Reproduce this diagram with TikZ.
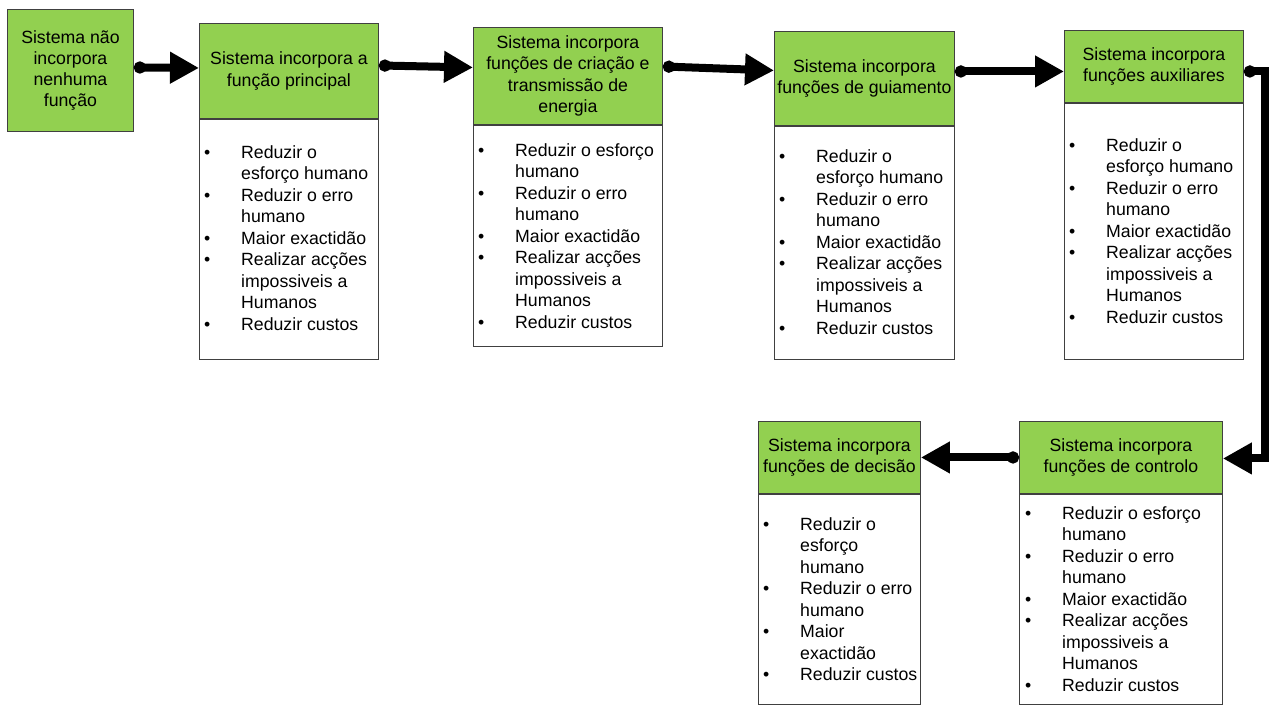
\documentclass[tikz,border=0pt]{standalone}
\usepackage{fontspec}
\setmainfont{Liberation Sans}
\usetikzlibrary{arrows.meta}
\definecolor{hdgreen}{RGB}{146,208,80}
\definecolor{edgegray}{RGB}{64,64,64}

% one bulleted line, and a wrapped continuation line
\newcommand\itm[1]{\makebox[37pt][l]{\textbullet}#1}
\newcommand\cnt[1]{\hspace*{37pt}#1}

\begin{document}
\begin{tikzpicture}[x=1pt,y=-1pt,
  head/.style={font=\fontsize{17.7pt}{21.3pt}\selectfont, inner sep=0pt,
    draw=edgegray, line width=0.9pt, fill=hdgreen, align=center, anchor=north west},
  panel/.style={draw=edgegray, line width=0.9pt, fill=white, anchor=north west, inner sep=0pt},
  list/.style={font=\fontsize{17.7pt}{21.5pt}\selectfont, inner sep=0pt, anchor=base west},
  conn/.style={line width=8pt, line join=miter,
    {Circle[length=12pt 0 0]}-{Triangle[length=29pt 0 0,width=30pt 0 0]}}
]
\useasboundingbox (0,0) rectangle (1269,705);

% starting state
\node[head, minimum width=126pt, minimum height=122pt] (g0) at (7,9)
  {Sistema não\\incorpora\\nenhuma\\função};

% stage 1
\node[head, minimum width=179pt, minimum height=95pt] (g1) at (199,23)
  {Sistema incorpora a\\função principal};
\node[panel, minimum width=179pt, minimum height=240pt] (p1) at (g1.south west) {};
\node[list] (t1) at (204,158) {\begin{tabular}[t]{@{}l@{}}
  \itm{Reduzir o}\\ \cnt{esforço humano}\\
  \itm{Reduzir o erro}\\ \cnt{humano}\\
  \itm{Maior exactidão}\\
  \itm{Realizar acções}\\ \cnt{impossiveis a}\\ \cnt{Humanos}\\
  \itm{Reduzir custos}
\end{tabular}};

% stage 2
\node[head, minimum width=189pt, minimum height=97pt] (g2) at (473,27)
  {Sistema incorpora\\funções de criação e\\transmissão de\\energia};
\node[panel, minimum width=189pt, minimum height=221pt] (p2) at (g2.south west) {};
\node[list] (t2) at (478,156) {\begin{tabular}[t]{@{}l@{}}
  \itm{Reduzir o esforço}\\ \cnt{humano}\\
  \itm{Reduzir o erro}\\ \cnt{humano}\\
  \itm{Maior exactidão}\\
  \itm{Realizar acções}\\ \cnt{impossiveis a}\\ \cnt{Humanos}\\
  \itm{Reduzir custos}
\end{tabular}};

% stage 3
\node[head, minimum width=180pt, minimum height=94pt] (g3) at (774,31)
  {Sistema incorpora\\funções de guiamento};
\node[panel, minimum width=180pt, minimum height=233pt] (p3) at (g3.south west) {};
\node[list] (t3) at (779,162) {\begin{tabular}[t]{@{}l@{}}
  \itm{Reduzir o}\\ \cnt{esforço humano}\\
  \itm{Reduzir o erro}\\ \cnt{humano}\\
  \itm{Maior exactidão}\\
  \itm{Realizar acções}\\ \cnt{impossiveis a}\\ \cnt{Humanos}\\
  \itm{Reduzir custos}
\end{tabular}};

% stage 4
\node[head, minimum width=179pt, minimum height=72pt] (g4) at (1064,30)
  {Sistema incorpora\\funções auxiliares};
\node[panel, minimum width=179pt, minimum height=256pt] (p4) at (g4.south west) {};
\node[list] (t4) at (1069,151) {\begin{tabular}[t]{@{}l@{}}
  \itm{Reduzir o}\\ \cnt{esforço humano}\\
  \itm{Reduzir o erro}\\ \cnt{humano}\\
  \itm{Maior exactidão}\\
  \itm{Realizar acções}\\ \cnt{impossiveis a}\\ \cnt{Humanos}\\
  \itm{Reduzir custos}
\end{tabular}};

% stage 5: control
\node[head, minimum width=203pt, minimum height=72pt] (g6) at (1019,421)
  {Sistema incorpora\\funções de controlo};
\node[panel, minimum width=203pt, minimum height=210pt] (p6) at (g6.south west) {};
\node[list] (t6) at (1025,519) {\begin{tabular}[t]{@{}l@{}}
  \itm{Reduzir o esforço}\\ \cnt{humano}\\
  \itm{Reduzir o erro}\\ \cnt{humano}\\
  \itm{Maior exactidão}\\
  \itm{Realizar acções}\\ \cnt{impossiveis a}\\ \cnt{Humanos}\\
  \itm{Reduzir custos}
\end{tabular}};

% stage 6: decision
\node[head, minimum width=162pt, minimum height=72pt] (g5) at (758,421)
  {Sistema incorpora\\funções de decisão};
\node[panel, minimum width=162pt, minimum height=210pt] (p5) at (g5.south west) {};
\node[list] (t5) at (763,530) {\begin{tabular}[t]{@{}l@{}}
  \itm{Reduzir o}\\ \cnt{esforço}\\ \cnt{humano}\\
  \itm{Reduzir o erro}\\ \cnt{humano}\\
  \itm{Maior}\\ \cnt{exactidão}\\
  \itm{Reduzir custos}
\end{tabular}};

% connectors
\draw[conn] ([yshift=3pt]g0.east) -- ([yshift=3pt]g1.west);
\draw[conn] ([yshift=5.5pt]g1.east) -- ([yshift=8.5pt]g2.west);
\draw[conn] ([yshift=9.5pt]g2.east) -- ([yshift=8pt]g3.west);
\draw[conn] ([yshift=7pt]g3.east) -- ([yshift=-5pt]g4.west);
\draw[conn] ([yshift=-5pt]g4.east) -- ++(21,0) |- ([yshift=-1pt]g6.east);
\draw[conn] (g6.west) -- (g5.east);
\end{tikzpicture}
\end{document}
